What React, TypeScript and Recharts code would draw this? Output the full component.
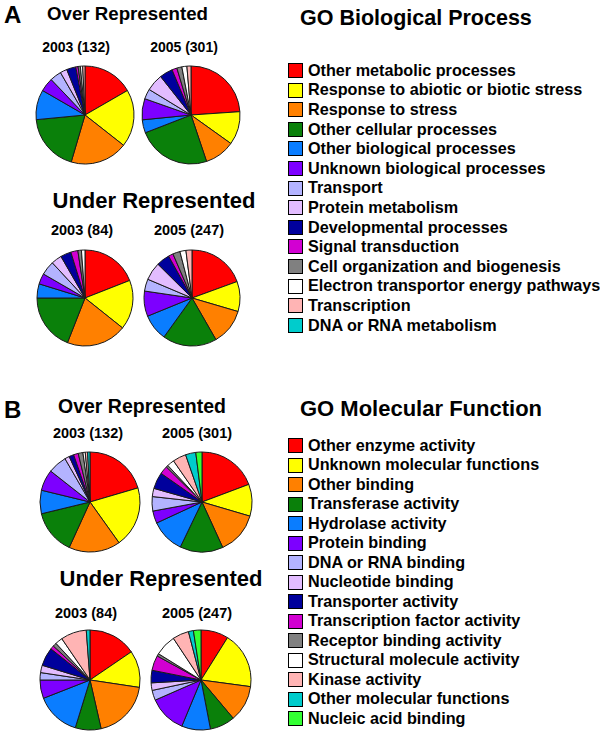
import React from "react";
import { PieChart, Pie, Cell } from "recharts";

// GO Biological Process categories
const bpCategories = [
  "Other metabolic processes",
  "Response to abiotic or biotic stress",
  "Response to stress",
  "Other cellular processes",
  "Other biological processes",
  "Unknown biological processes",
  "Transport",
  "Protein metabolism",
  "Developmental processes",
  "Signal transduction",
  "Cell organization and biogenesis",
  "Electron transportor energy pathways",
  "Transcription",
  "DNA or RNA metabolism",
];
const bpColors = [
  "#ff0000", "#ffff00", "#ff8000", "#0a800a", "#0a7dff", "#7d00ff", "#b3b3ff",
  "#e2bcff", "#00009c", "#d200d2", "#808080", "#ffffff", "#ffb4b4", "#00cccc",
];
const bpOver2003 = [22, 25, 25, 25, 13, 6, 5, 3, 4, 1, 1, 1, 1, 0];
const bpOver2005 = [72, 33, 30, 73, 13, 21, 10, 17, 13, 5, 5, 5, 4, 0];
const bpUnder2003 = [16, 14, 17, 16, 4, 3, 4, 3, 3, 2, 1, 1, 0, 0];
const bpUnder2005 = [48, 25, 30, 45, 22, 21, 10, 15, 11, 4, 6, 5, 5, 0];

// GO Molecular Function categories
const mfCategories = [
  "Other enzyme activity",
  "Unknown molecular functions",
  "Other binding",
  "Transferase activity",
  "Hydrolase activity",
  "Protein binding",
  "DNA or RNA binding",
  "Nucleotide binding",
  "Transporter activity",
  "Transcription factor activity",
  "Receptor binding activity",
  "Structural molecule activity",
  "Kinase activity",
  "Other molecular functions",
  "Nucleic acid binding",
];
const mfColors = [
  "#ff0000", "#ffff00", "#ff8000", "#0a800a", "#0a7dff", "#7d00ff", "#b3b3ff",
  "#e2bcff", "#00009c", "#d200d2", "#808080", "#ffffff", "#ffb4b4", "#00cccc", "#33ff33",
];
const mfOver2003 = [27, 26, 22, 19, 10, 9, 8, 2, 2, 2, 2, 1, 1, 1, 0];
const mfOver2005 = [58, 31, 41, 42, 33, 12, 14, 8, 16, 8, 2, 7, 13, 10, 6];
const mfUnder2003 = [13, 10, 16, 7, 12, 5, 2, 2, 5, 1, 1, 2, 7, 1, 0];
const mfUnder2005 = [22, 45, 29, 20, 23, 30, 8, 6, 10, 12, 2, 17, 13, 4, 6];

const FONT = "'Liberation Sans', Arial, Helvetica, sans-serif";

const toRows = (names: string[], values: number[]) =>
  names.map((name, i) => ({ name, value: values[i] }));

const pies = [
  { key: "bpo3", names: bpCategories, colors: bpColors, values: bpOver2003, cx: 80, cy: 110, r: 49 },
  { key: "bpo5", names: bpCategories, colors: bpColors, values: bpOver2005, cx: 186, cy: 110, r: 49 },
  { key: "bpu3", names: bpCategories, colors: bpColors, values: bpUnder2003, cx: 80, cy: 293, r: 48 },
  { key: "bpu5", names: bpCategories, colors: bpColors, values: bpUnder2005, cx: 187, cy: 293, r: 48 },
  { key: "mfo3", names: mfCategories, colors: mfColors, values: mfOver2003, cx: 85, cy: 497, r: 50 },
  { key: "mfo5", names: mfCategories, colors: mfColors, values: mfOver2005, cx: 197, cy: 497, r: 50 },
  { key: "mfu3", names: mfCategories, colors: mfColors, values: mfUnder2003, cx: 85, cy: 675, r: 50 },
  { key: "mfu5", names: mfCategories, colors: mfColors, values: mfUnder2005, cx: 196, cy: 675, r: 50 },
];

// centred text, positioned by baseline
const Label = ({ text, cx, base, size }: { text: string; cx: number; base: number; size: number }) => (
  <div
    style={{
      position: "absolute",
      left: cx,
      top: base - 0.8465 * size,
      transform: "translateX(-50%)",
      fontSize: size,
      lineHeight: `${size}px`,
      fontWeight: "bold",
      whiteSpace: "nowrap",
    }}
  >
    {text}
  </div>
);

const LeftLabel = ({ text, x, base, size }: { text: string; x: number; base: number; size: number }) => (
  <div
    style={{
      position: "absolute",
      left: x,
      top: base - 0.8465 * size,
      fontSize: size,
      lineHeight: `${size}px`,
      fontWeight: "bold",
      whiteSpace: "nowrap",
    }}
  >
    {text}
  </div>
);

const Legend = ({ names, colors, y0, step }: { names: string[]; colors: string[]; y0: number; step: number }) => (
  <>
    {names.map((name, i) => {
      const y = y0 + i * step;
      return (
        <React.Fragment key={name}>
          <div
            style={{
              position: "absolute",
              left: 288,
              top: y - 7,
              width: 13,
              height: 13,
              background: colors[i],
              border: "1px solid #000",
            }}
          />
          <LeftLabel text={name} x={308} base={y + 5.5} size={16.2} />
        </React.Fragment>
      );
    })}
  </>
);

export default function App() {
  return (
    <div
      style={{
        position: "absolute",
        left: 0,
        top: 0,
        width: 600,
        height: 734,
        background: "#fff",
        fontFamily: FONT,
        color: "#000",
        overflow: "hidden",
      }}
    >
      <PieChart width={600} height={734} style={{ position: "absolute", left: 0, top: 0 }}>
        {pies.map((p) => (
          <Pie
            key={p.key}
            data={toRows(p.names, p.values)}
            dataKey="value"
            nameKey="name"
            cx={p.cx}
            cy={p.cy}
            outerRadius={p.r}
            startAngle={90}
            endAngle={-270}
            stroke="#1a1a1a"
            strokeWidth={1}
            isAnimationActive={false}
          >
            {p.values.map((_, i) => (
              <Cell key={i} fill={p.colors[i]} />
            ))}
          </Pie>
        ))}
      </PieChart>

      <LeftLabel text="A" x={4} base={23} size={24} />
      <LeftLabel text="B" x={4} base={418} size={24} />

      <Label text="Over Represented" cx={127.5} base={21} size={18.7} />
      <Label text="2003 (132)" cx={76} base={52} size={14} />
      <Label text="2005 (301)" cx={184} base={52} size={14} />
      <Label text="Under Represented" cx={154} base={209} size={22} />
      <Label text="2003 (84)" cx={82} base={235} size={14.5} />
      <Label text="2005 (247)" cx={189} base={235} size={14.5} />

      <Label text="Over Represented" cx={142} base={414} size={19.5} />
      <Label text="2003 (132)" cx={88} base={438} size={14.5} />
      <Label text="2005 (301)" cx={197} base={438} size={14.5} />
      <Label text="Under Represented" cx={161} base={587} size={22} />
      <Label text="2003 (84)" cx={86} base={618} size={14.5} />
      <Label text="2005 (247)" cx={197} base={618} size={14.5} />

      <LeftLabel text="GO Biological Process" x={300} base={26} size={21.5} />
      <LeftLabel text="GO Molecular Function" x={300} base={417} size={22} />

      <Legend names={bpCategories} colors={bpColors} y0={70} step={19.6} />
      <Legend names={mfCategories} colors={mfColors} y0={445} step={19.5} />
    </div>
  );
}
